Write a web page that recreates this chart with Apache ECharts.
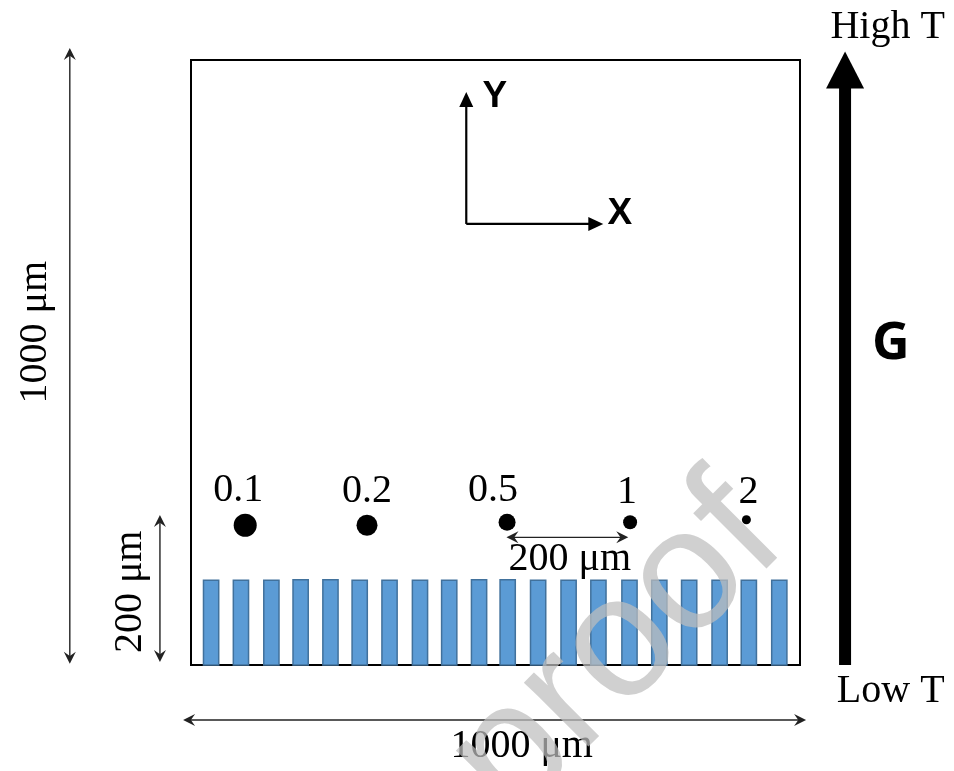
<!DOCTYPE html>
<html>
<head>
<meta charset="utf-8">
<script src="https://cdn.jsdelivr.net/npm/echarts@6/dist/echarts.min.js"></script>
<style>
html,body{margin:0;padding:0;background:#fff;}
#chart{width:954px;height:771px;}
</style>
</head>
<body>
<div id="chart"></div>
<script>
// ---------- DATA (micrometres) ----------
const barCentersUm = [33, 82, 132, 180, 229, 277, 326, 376, 424, 473, 520, 570, 620, 669, 720, 769, 818, 868, 916, 966];
const barHeightsUm = [140, 140, 140, 141, 141, 140, 140, 140, 140, 141, 141, 140, 140, 140, 140, 140, 140, 140, 140, 140];
const barWidthUm = 25;

const dotLabels = ['0.1', '0.2', '0.5', '1', '2'];
const dotXUm = [89, 289, 519, 721, 912];
const dotYUm = [231, 231, 236, 236, 240];

// dimension arrows [x1, y1, x2, y2]
const dimArrows = [
  [-199, 2, -199, 1020],   // 1000 um (left)
  [-51, 5, -51, 248],      // 200 um (left)
  [-13, -91, 1010, -91],   // 1000 um (bottom)
  [518, 211, 718, 211]     // 200 um (between dots)
];
const axisArrows = [
  [452, 729, 452, 947],    // Y
  [452, 729, 677, 729]     // X
];
const gradientArrow = [[1074, 0, 1074, 1014]];

const annotationTexts = ['High T', 'Low T', '1000 μm', '200 μm', '1000 μm', '200 μm', 'G', 'Y', 'X'];
const annotationXUm = [1144, 1149, 543, 622, -256, -100, 1149, 499, 704];
const annotationYUm = [1054, -43, -135, 174, 550, 121, 530, 940, 745];

// ---------- STYLE ----------
const dotDiameterPx = [23, 21, 17, 14, 9];
const dotLabelDxPx = [-7, 0, -14, -3, 2];
const serif = '"Liberation Serif", "Times New Roman", serif';
const annotationStyle = [
  {font: '40px ' + serif, rot: 0},
  {font: '40px ' + serif, rot: 0},
  {font: '40px ' + serif, rot: 0},
  {font: '40px ' + serif, rot: 0},
  {font: '40px ' + serif, rot: Math.PI / 2},
  {font: '40px ' + serif, rot: Math.PI / 2},
  {font: 'bold 52px "Open Sans", "Liberation Sans", sans-serif', rot: 0},
  {font: 'bold 37px "Liberation Sans", Arial, sans-serif', rot: 0},
  {font: 'bold 37px "Liberation Sans", Arial, sans-serif', rot: 0}
];

function headPoints(tip, ux, uy, cfg) {
  const bx = tip[0] - ux * cfg.len, by = tip[1] - uy * cfg.len;
  const px = -uy, py = ux;
  const nx = tip[0] - ux * cfg.len * (1 - cfg.notch), ny = tip[1] - uy * cfg.len * (1 - cfg.notch);
  return [tip, [bx + px * cfg.half, by + py * cfg.half], [nx, ny], [bx - px * cfg.half, by - py * cfg.half]];
}
function arrowRenderer(cfg) {
  return function (params, api) {
    const a = api.coord([api.value(0), api.value(1)]);
    const b = api.coord([api.value(2), api.value(3)]);
    const dx = b[0] - a[0], dy = b[1] - a[1], L = Math.hypot(dx, dy);
    const ux = dx / L, uy = dy / L;
    const s = cfg.double ? [a[0] + ux * cfg.len * 0.6, a[1] + uy * cfg.len * 0.6] : a;
    const e = [b[0] - ux * cfg.len * 0.6, b[1] - uy * cfg.len * 0.6];
    const children = [
      {type: 'line', shape: {x1: s[0], y1: s[1], x2: e[0], y2: e[1]}, style: {stroke: cfg.color, lineWidth: cfg.width}},
      {type: 'polygon', shape: {points: headPoints(b, ux, uy, cfg)}, style: {fill: cfg.color}}
    ];
    if (cfg.double) children.push({type: 'polygon', shape: {points: headPoints(a, -ux, -uy, cfg)}, style: {fill: cfg.color}});
    return {type: 'group', children: children};
  };
}

const chart = echarts.init(document.getElementById('chart'), null, {renderer: 'canvas'});
const option = {
  animation: false,
  backgroundColor: '#ffffff',
  grid: {left: 191, top: 60, width: 609, height: 605, show: true, borderColor: '#000', borderWidth: 2, backgroundColor: 'transparent'},
  xAxis: {type: 'value', min: 0, max: 1000, show: false},
  yAxis: {type: 'value', min: 0, max: 1000, show: false},
  series: [
    {
      type: 'custom', name: 'electrodes', clip: false, z: 1,
      data: barCentersUm.map((c, i) => [c, barHeightsUm[i]]),
      renderItem: function (params, api) {
        const c = api.value(0), h = api.value(1);
        const p0 = api.coord([c - barWidthUm / 2, h]);
        const p1 = api.coord([c + barWidthUm / 2, 0]);
        return {type: 'rect', shape: {x: p0[0], y: p0[1], width: p1[0] - p0[0], height: p1[1] - p0[1]},
          style: {fill: '#5B9BD5', stroke: '#41719C', lineWidth: 1.5}};
      }
    },
    {
      type: 'scatter', name: 'dots', z: 3,
      symbol: 'circle',
      itemStyle: {color: '#000', opacity: 1},
      emphasis: {disabled: true},
      data: dotXUm.map((x, i) => ({value: [x, dotYUm[i]], symbolSize: dotDiameterPx[i], label: {offset: [dotLabelDxPx[i], 0]}})),
      label: {show: true, position: 'top', distance: 3, formatter: p => dotLabels[p.dataIndex],
        fontFamily: serif, fontSize: 40, color: '#000', opacity: 1}
    },
    {type: 'custom', name: 'dims', clip: false, z: 4, data: dimArrows,
      renderItem: arrowRenderer({double: true, len: 12, half: 6, notch: 0.35, width: 1.4, color: '#222'})},
    {type: 'custom', name: 'axes', clip: false, z: 4, data: axisArrows,
      renderItem: arrowRenderer({double: false, len: 15, half: 7, notch: 0, width: 2.2, color: '#000'})},
    {type: 'custom', name: 'gradient', clip: false, z: 4, data: gradientArrow,
      renderItem: arrowRenderer({double: false, len: 37, half: 19, notch: 0, width: 12, color: '#000'})},
    {type: 'custom', name: 'texts', clip: false, z: 5,
      data: annotationXUm.map((x, i) => [x, annotationYUm[i]]),
      renderItem: function (params, api) {
        const i = params.dataIndex;
        const p = api.coord([api.value(0), api.value(1)]);
        const st = annotationStyle[i];
        return {type: 'text', x: p[0], y: p[1], rotation: st.rot,
          style: {text: annotationTexts[i], font: st.font, fill: '#000',
            align: 'center', verticalAlign: 'middle', textAlign: 'center', textVerticalAlign: 'middle'}};
      }
    }
  ],
  graphic: [{
    type: 'text', x: 756, y: 512, rotation: Math.PI / 4, z: 100, silent: true,
    style: {text: 'Journal Pre-proof', font: '172px "Liberation Sans", Arial, sans-serif',
      fill: 'rgba(190,190,190,0.72)', align: 'right', verticalAlign: 'middle', textAlign: 'right', textVerticalAlign: 'middle'}
  }]
};
chart.setOption(option);
</script>
</body>
</html>
